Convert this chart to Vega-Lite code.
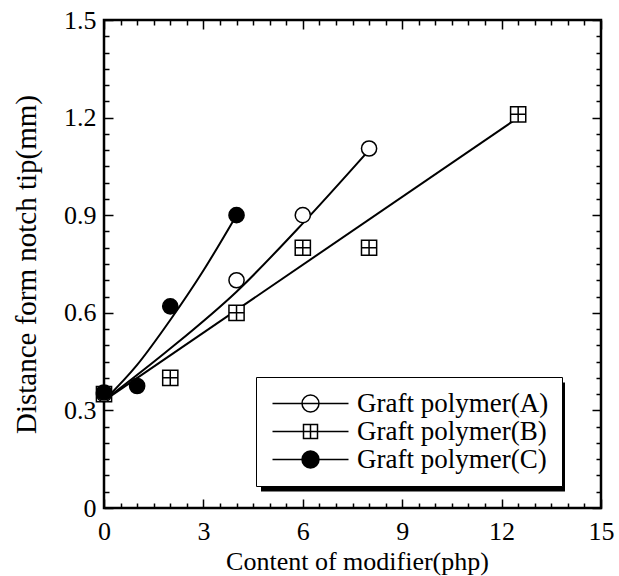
{
  "$schema": "https://vega.github.io/schema/vega-lite/v6.json",
  "width": 497,
  "height": 488,
  "autosize": {"type": "none"},
  "padding": {"left": 104, "top": 20, "right": 18, "bottom": 68},
  "background": "white",
  "config": {
    "view": {"stroke": "black", "strokeWidth": 2.5},
    "font": "Liberation Serif",
    "axis": {
      "grid": false,
      "domain": false,
      "tickColor": "black",
      "tickWidth": 1.5,
      "labelColor": "black",
      "labelFont": "Liberation Serif",
      "labelFontSize": 26,
      "labelFlush": false,
      "labelOverlap": false,
      "titleColor": "black",
      "titleFont": "Liberation Serif",
      "titleFontSize": 26,
      "titleFontWeight": "normal"
    }
  },
  "datasets": {
    "fits": [
      {"series": "Graft polymer(A)", "x": 0, "y": 0.33},
      {"series": "Graft polymer(A)", "x": 2, "y": 0.49},
      {"series": "Graft polymer(A)", "x": 4, "y": 0.665},
      {"series": "Graft polymer(A)", "x": 6, "y": 0.875},
      {"series": "Graft polymer(A)", "x": 8, "y": 1.1},
      {"series": "Graft polymer(B)", "x": 0, "y": 0.33},
      {"series": "Graft polymer(B)", "x": 12.5, "y": 1.2},
      {"series": "Graft polymer(C)", "x": 0, "y": 0.33},
      {"series": "Graft polymer(C)", "x": 1, "y": 0.44},
      {"series": "Graft polymer(C)", "x": 2, "y": 0.578},
      {"series": "Graft polymer(C)", "x": 3, "y": 0.73},
      {"series": "Graft polymer(C)", "x": 4, "y": 0.9}
    ],
    "points": [
      {"series": "Graft polymer(B)", "x": 0, "y": 0.35},
      {"series": "Graft polymer(B)", "x": 2, "y": 0.4},
      {"series": "Graft polymer(B)", "x": 4, "y": 0.6},
      {"series": "Graft polymer(B)", "x": 6, "y": 0.8},
      {"series": "Graft polymer(B)", "x": 8, "y": 0.8},
      {"series": "Graft polymer(B)", "x": 12.5, "y": 1.21},
      {"series": "Graft polymer(A)", "x": 0, "y": 0.35},
      {"series": "Graft polymer(A)", "x": 4, "y": 0.7},
      {"series": "Graft polymer(A)", "x": 6, "y": 0.9},
      {"series": "Graft polymer(A)", "x": 8, "y": 1.105},
      {"series": "Graft polymer(C)", "x": 0, "y": 0.355},
      {"series": "Graft polymer(C)", "x": 1, "y": 0.375},
      {"series": "Graft polymer(C)", "x": 2, "y": 0.62},
      {"series": "Graft polymer(C)", "x": 4, "y": 0.9}
    ]
  },
  "resolve": {
    "axis": {"x": "independent", "y": "independent"},
    "scale": {"shape": "independent", "fill": "independent", "color": "independent"}
  },
  "layer": [
    {
      "data": {"name": "fits"},
      "mark": {"type": "line", "color": "black", "strokeWidth": 2, "interpolate": "monotone"},
      "encoding": {
        "x": {
          "field": "x", "type": "quantitative",
          "scale": {"domain": [0, 15], "nice": false, "zero": false},
          "axis": {
            "orient": "bottom",
            "values": [0,0.5,1,1.5,2,2.5,3,3.5,4,4.5,5,5.5,6,6.5,7,7.5,8,8.5,9,9.5,10,10.5,11,11.5,12,12.5,13,13.5,14,14.5,15],
            "tickSize": {"condition": {"test": "datum.value % 3 === 0", "value": -9}, "value": -5},
            "labelExpr": "datum.value % 3 === 0 ? format(datum.value, 'd') : ''",
            "labelPadding": 19,
            "title": "Content of modifier(php)",
            "titleX": 253,
            "titleY": 61,
            "titleBaseline": "alphabetic",
            "titleAnchor": "middle"
          }
        },
        "y": {
          "field": "y", "type": "quantitative",
          "scale": {"domain": [0, 1.5], "nice": false, "zero": false},
          "axis": {
            "orient": "left",
            "values": [0,0.05,0.1,0.15,0.2,0.25,0.3,0.35,0.4,0.45,0.5,0.55,0.6,0.65,0.7,0.75,0.8,0.85,0.9,0.95,1,1.05,1.1,1.15,1.2,1.25,1.3,1.35,1.4,1.45,1.5],
            "tickSize": {"condition": {"test": "round(datum.value * 20) % 6 === 0", "value": -9}, "value": -5},
            "labelExpr": "round(datum.value * 20) % 6 === 0 ? (datum.value === 0 ? '0' : format(datum.value, '.1f')) : ''",
            "labelPadding": 17,
            "title": "Distance form notch tip(mm)",
            "titleFontSize": 29,
            "titleX": -69,
            "titleY": 244,
            "titleAngle": -90,
            "titleAlign": "center",
            "titleBaseline": "alphabetic",
            "titleAnchor": "middle"
          }
        },
        "detail": {"field": "series", "type": "nominal"}
      }
    },
    {
      "data": {"name": "points"},
      "mark": {"type": "point", "filled": true, "stroke": "black", "strokeWidth": 1.5, "opacity": 1, "size": 230},
      "encoding": {
        "x": {
          "field": "x", "type": "quantitative",
          "scale": {"domain": [0, 15], "nice": false, "zero": false},
          "axis": {
            "orient": "top",
            "values": [0,0.5,1,1.5,2,2.5,3,3.5,4,4.5,5,5.5,6,6.5,7,7.5,8,8.5,9,9.5,10,10.5,11,11.5,12,12.5,13,13.5,14,14.5,15],
            "tickSize": {"condition": {"test": "datum.value % 3 === 0", "value": -9}, "value": -5},
            "labels": false,
            "title": null
          }
        },
        "y": {
          "field": "y", "type": "quantitative",
          "scale": {"domain": [0, 1.5], "nice": false, "zero": false},
          "axis": {
            "orient": "right",
            "values": [0,0.05,0.1,0.15,0.2,0.25,0.3,0.35,0.4,0.45,0.5,0.55,0.6,0.65,0.7,0.75,0.8,0.85,0.9,0.95,1,1.05,1.1,1.15,1.2,1.25,1.3,1.35,1.4,1.45,1.5],
            "tickSize": {"condition": {"test": "round(datum.value * 20) % 6 === 0", "value": -9}, "value": -5},
            "labels": false,
            "title": null
          }
        },
        "shape": {
          "field": "series", "type": "nominal",
          "scale": {"domain": ["Graft polymer(A)", "Graft polymer(B)", "Graft polymer(C)"], "range": ["circle", "M-1,-1H1V1H-1ZM0,-1V1M-1,0H1", "circle"]},
          "legend": null
        },
        "fill": {
          "field": "series", "type": "nominal",
          "scale": {"domain": ["Graft polymer(A)", "Graft polymer(B)", "Graft polymer(C)"], "range": ["white", "white", "black"]},
          "legend": null
        }
      }
    },
    {
      "data": {"name": "points"},
      "transform": [{"filter": "false"}],
      "mark": {"type": "point", "filled": false, "stroke": "black", "strokeWidth": 1.5, "opacity": 1},
      "encoding": {
        "shape": {
          "field": "series", "type": "nominal",
          "scale": {"domain": ["Graft polymer(A)", "Graft polymer(B)", "Graft polymer(C)"], "range": ["M-3.8,0H3.8M0.85,0A0.85,0.85,0,1,1,-0.85,0A0.85,0.85,0,1,1,0.85,0Z", "M-3.8,0H3.8M-0.7,-0.7H0.7V0.7H-0.7ZM0,-0.7V0.7", "M-3.8,0H3.8M0.85,0A0.85,0.85,0,1,1,-0.85,0A0.85,0.85,0,1,1,0.85,0M0.72,0A0.72,0.72,0,1,1,-0.72,0A0.72,0.72,0,1,1,0.72,0M0.59,0A0.59,0.59,0,1,1,-0.59,0A0.59,0.59,0,1,1,0.59,0M0.46,0A0.46,0.46,0,1,1,-0.46,0A0.46,0.46,0,1,1,0.46,0M0.33,0A0.33,0.33,0,1,1,-0.33,0A0.33,0.33,0,1,1,0.33,0M0.2,0A0.2,0.2,0,1,1,-0.2,0A0.2,0.2,0,1,1,0.2,0M0.08,0A0.08,0.08,0,1,1,-0.08,0A0.08,0.08,0,1,1,0.08,0"]},
          "legend": {
            "title": null, "orient": "none", "legendX": 152, "legendY": 357, "zindex": 2,
            "fillColor": "white", "strokeColor": "black", "padding": 13,
            "symbolSize": 400, "symbolStrokeColor": "black", "symbolStrokeWidth": 1.5, "symbolOffset": 28,
            "labelOffset": 33, "labelFont": "Liberation Serif", "labelFontSize": 27, "labelColor": "black", "labelLimit": 400,
            "rowPadding": 0,
            "encode": {
              "symbols": {
                "stroke": {"value": "black"},
                "strokeWidth": {"value": 1.5},
                "opacity": {"value": 1}
              }
            }
          }
        }
      }
    },
    {
      "data": {"name": "points"},
      "transform": [{"filter": "false"}],
      "mark": {"type": "point", "filled": true, "opacity": 1},
      "encoding": {
        "color": {
          "field": "series", "type": "nominal",
          "scale": {"domain": ["Graft polymer(A)", "Graft polymer(B)", "Graft polymer(C)"], "range": ["black", "black", "black"]},
          "legend": {
            "title": null, "orient": "none", "legendX": 299, "legendY": 407, "zindex": 1,
            "values": ["Graft polymer(A)"],
            "labelExpr": "''",
            "padding": 0,
            "symbolSize": 400, "symbolType": "M-15.2,-5.45H15.2V5.45H-15.2Z", "symbolFillColor": "black", "symbolStrokeWidth": 0, "symbolOffset": 0,
            "encode": {
              "symbols": {"shape": {"value": "M-15.2,-5.45H15.2V5.45H-15.2Z"}, "size": {"value": 400}, "fill": {"value": "black"}, "stroke": {"value": "black"}, "strokeWidth": {"value": 0}, "opacity": {"value": 1}}
            }
          }
        }
      }
    }
  ]
}
